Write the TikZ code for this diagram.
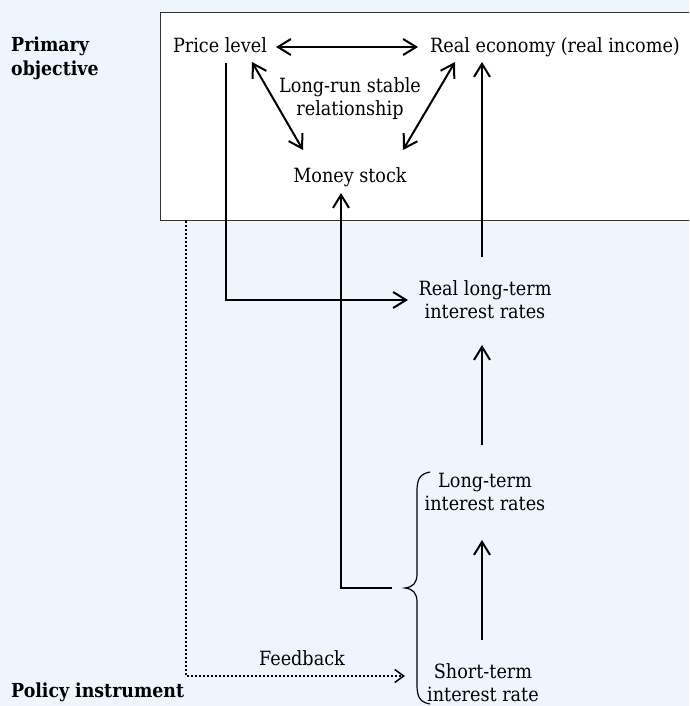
\documentclass[tikz,border=0pt]{standalone}
\usepackage{fontspec}
\setmainfont{DejaVu Serif Condensed}
\usetikzlibrary{arrows.meta}
\definecolor{bgblue}{RGB}{238,245,252}
\definecolor{frame}{RGB}{50,50,50}
\tikzset{
  barbtip/.tip={Straight Barb[length=13pt,width=16pt,line width=2pt]},
  smallbarbtip/.tip={Straight Barb[length=9pt,width=13pt,line width=1.5pt]}}
\begin{document}
\begin{tikzpicture}[x=1pt,y=-1pt,
  lbl/.style={font=\fontsize{19.6}{23}\selectfont, align=center, inner sep=0pt},
  head/.style={font=\bfseries\fontsize{19.3}{24}\selectfont, align=left, inner sep=0pt},
  link/.style={line width=2pt, -barbtip},
  twoway/.style={line width=2pt, barbtip-barbtip},
  feed/.style={line width=1.5pt, dash pattern=on 1.5pt off 2.5pt, -smallbarbtip},
  brace/.style={line width=1.2pt}]
\fill[bgblue] (0,0) rectangle (689,706);
\useasboundingbox (0,0) rectangle (689,706);
\begin{scope}
\clip (0,0) rectangle (689,706);
\draw[frame, fill=white, line width=1.2pt] (160.5,12.5) rectangle (720,220.5);
\end{scope}

% labels (base anchor = baseline of the last line)
\node[head, anchor=base west] (po) at (11,76) {Primary\\objective};
\node[head, anchor=base west] (pi) at (11,697) {Policy instrument};
\node[lbl, anchor=base] (price) at (220,53) {Price level};
\node[lbl, anchor=base] (real) at (555,53) {Real economy (real income)};
\node[lbl, anchor=base] (lr) at (350,115) {Long-run stable\\relationship};
\node[lbl, anchor=base] (money) at (350,182) {Money stock};
\node[lbl, anchor=base] (rlt) at (485,318) {Real long-term\\interest rates};
\node[lbl, anchor=base] (lt) at (485,510) {Long-term\\interest rates};
\node[lbl, anchor=base] (st) at (483,701) {Short-term\\interest rate};
\node[lbl, anchor=base] (fb) at (302,665) {Feedback};

% connection points
\coordinate (pdown) at (226,63);
\coordinate (pcorner) at (226,300);
\coordinate (rltin) at (408,300);
\coordinate (rltout) at (482,257);
\coordinate (realin) at (482,62);
\coordinate (ltout) at (482,445);
\coordinate (rltbot) at (482,345);
\coordinate (stout) at (482,640);
\coordinate (ltbot) at (482,540);
\coordinate (mfoot) at (392,588);
\coordinate (mcorner) at (341,588);
\coordinate (mtop) at (341,193);
\coordinate (fstart) at (186,221);
\coordinate (fcorner) at (186,676);
\coordinate (fend) at (405,676);

% relationships inside the box
\draw[twoway] (276,47) -- (418,47);
\draw[twoway] (252,62) -- (303,150);
\draw[twoway] (455,62) -- (403,150);

% transmission channels
\draw[link] (pdown) -- (pcorner) -- (rltin);
\draw[link] (rltout) -- (realin);
\draw[link] (ltout) -- (rltbot);
\draw[link] (stout) -- (ltbot);
\draw[link] (mfoot) -- (mcorner) -- (mtop);
\draw[feed] (fstart) -- (fcorner) -- (fend);

% brace grouping the two interest rates
\draw[brace] (430,472) .. controls (419,474) and (417,480) .. (417,492)
  -- (417,574) .. controls (417,583) and (413,587) .. (405,588)
  .. controls (413,589) and (417,593) .. (417,602)
  -- (417,684) .. controls (417,696) and (419,702) .. (430,704);
\end{tikzpicture}
\end{document}
